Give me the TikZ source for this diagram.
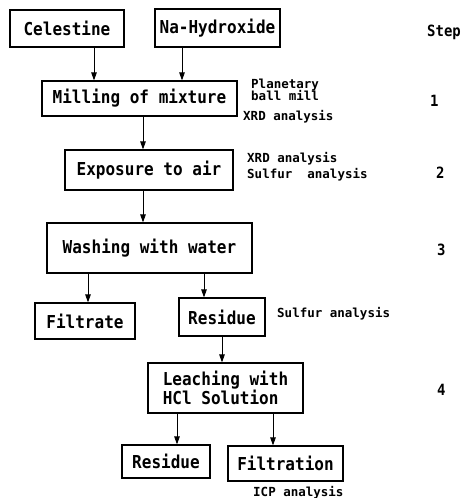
\documentclass[tikz,border=0pt]{standalone}
\usepackage{fontspec}
\usetikzlibrary{arrows.meta}
\newfontfamily\mainf[FakeStretch=0.9]{DejaVu Sans Mono Bold}
\newfontfamily\smallf{DejaVu Sans Mono Bold}
\begin{document}
\begin{tikzpicture}[x=1pt,y=-1pt,
  box/.style={draw, line width=1.2pt, inner sep=0pt, font=\mainf\fontsize{17.8}{16}\selectfont},
  arr/.style={line width=0.9pt, -{Triangle[length=8pt,width=5.5pt]}},
  lbl/.style={anchor=base west, inner sep=0pt, font=\smallf\fontsize{12.5}{14}\selectfont},
  steplbl/.style={anchor=base west, inner sep=0pt, font=\mainf\fontsize{15.5}{16}\selectfont}]
\useasboundingbox (0,0) rectangle (466,498);
\node[box, minimum width=114pt, minimum height=37pt] (cel) at (67,28.5) {Celestine};
\node[box, minimum width=125pt, minimum height=38pt] (naoh) at (217.5,28) {Na-Hydroxide};
\node[box, minimum width=195pt, minimum height=35pt] (mill) at (139.5,98.5) {Milling of mixture};
\node[box, minimum width=168pt, minimum height=40pt] (expo) at (149,170) {Exposure to air};
\node[box, minimum width=205pt, minimum height=50pt] (wash) at (149.5,248) {Washing with water};
\node[box, minimum width=100pt, minimum height=36pt] (filt) at (85,321) {Filtrate};
\node[box, minimum width=86pt, minimum height=38pt] (res1) at (222,317) {Residue};
\node[box, minimum width=155pt, minimum height=50pt, align=left] (leach) at (225.5,388) {Leaching with\\HCl Solution};
\node[box, minimum width=88pt, minimum height=33pt] (res2) at (166,461.5) {Residue};
\node[box, minimum width=115pt, minimum height=35pt] (filtn) at (285.5,463.5) {Filtration};
\coordinate (a1) at (94,0);
\coordinate (a2) at (182,0);
\coordinate (a3) at (143,0);
\coordinate (a4) at (88,0);
\coordinate (a5) at (204,0);
\coordinate (a6) at (222,0);
\coordinate (a7) at (177,0);
\coordinate (a8) at (273,0);
\draw[arr] (cel.south -| a1) -- (mill.north -| a1);
\draw[arr] (naoh.south -| a2) -- (mill.north -| a2);
\draw[arr] (mill.south -| a3) -- (expo.north -| a3);
\draw[arr] (expo.south -| a3) -- (wash.north -| a3);
\draw[arr] (wash.south -| a4) -- (filt.north -| a4);
\draw[arr] (wash.south -| a5) -- (res1.north -| a5);
\draw[arr] (res1.south -| a6) -- (leach.north -| a6);
\draw[arr] (leach.south -| a7) -- (res2.north -| a7);
\draw[arr] (leach.south -| a8) -- (filtn.north -| a8);
\node[lbl] (l1) at (251,88) {Planetary};
\node[lbl] (l2) at (251,100) {ball mill};
\node[lbl] (l3) at (243,120) {XRD analysis};
\node[lbl] (l4) at (247,162) {XRD analysis};
\node[lbl] (l5) at (247,178) {Sulfur\ \ analysis};
\node[lbl] (l6) at (277,317) {Sulfur analysis};
\node[lbl] (l7) at (253,496) {ICP analysis};
\node[steplbl] (s0) at (427,36) {Step};
\node[steplbl] (s1) at (430,106) {1};
\node[steplbl] (s2) at (436,178) {2};
\node[steplbl] (s3) at (437,255) {3};
\node[steplbl] (s4) at (437,395) {4};
\end{tikzpicture}
\end{document}
